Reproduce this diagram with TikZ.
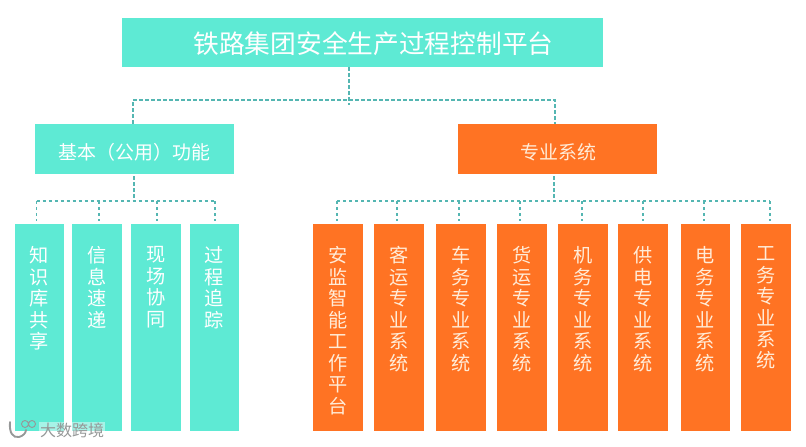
\documentclass[tikz,border=0pt]{standalone}
\usepackage{fontspec}
\setmainfont{Noto Sans CJK SC}
\usetikzlibrary{positioning}
\definecolor{tealbox}{RGB}{94,234,212}
\definecolor{orangebox}{RGB}{255,115,35}
\definecolor{linkteal}{RGB}{84,182,178}
\definecolor{orangetext}{RGB}{255,236,216}
\definecolor{markgray}{RGB}{150,152,152}
\tikzset{
	px/.style={x=0.75pt,y=-0.75pt},
	box/.style={draw=none,inner sep=0pt,text=white,font=\fontsize{14.2pt}{14.2pt}\selectfont},
	tealbox/.style={box,fill=tealbox},
	orangebox/.style={box,fill=orangebox,text=orangetext},
	lowered/.style={text height=17pt,text depth=2pt},
	coltext/.style={inner sep=0pt,align=center,text width=16pt,
		font=\fontsize{14.4pt}{16.1pt}\selectfont},
	link/.style={draw=linkteal,line width=1.1pt,dash pattern=on 2.6pt off 1.9pt}
}
\begin{document}
\begin{tikzpicture}[px]
	\useasboundingbox (0,0) rectangle (806,446);
	% upper boxes
	\node[tealbox,text height=19pt,text depth=2.2pt,minimum width=361pt,minimum height=37pt,font=\fontsize{19.3pt}{19.3pt}\selectfont] (top) at (362.5,42.5) {\hspace*{16.5pt}铁路集团安全生产过程控制平台};
	\node[tealbox,lowered,minimum width=149pt,minimum height=37.5pt] (base) at (134.5,149) {基本（公用）功能};
	\node[orangebox,lowered,minimum width=149pt,minimum height=37.5pt] (spec) at (557.5,149) {\hspace*{1pt}专业系统};
	% bus lines
	\coordinate (trunk) at (349,105);
	\coordinate (busa) at (133,100);
	\coordinate (busb) at (555,100);
	\coordinate (busc) at (134,201);
	\coordinate (busd) at (554,201);
	\draw[link] (trunk |- top.south) -- (trunk);
	\draw[link] (busa |- base.north) -- (busa) -- (busb) -- (busb |- spec.north);
	\draw[link,shorten <=1.5pt] (busc |- base.south) -- (busc);
	\draw[link,shorten <=1.5pt] (busd |- spec.south) -- (busd);
	% basic functions
	\foreach \n/\xa/\xb/\tap/\txt in {a/15/64/36.5/知\\识\\库\\共\\享,b/72/122/99/信\\息\\速\\递,c/131/181/157/现\\场\\协\\同,d/190/239/215/过\\程\\追\\踪}{
		\pgfmathsetmacro\colx{(\xa+\xb)/2}
		\pgfmathsetmacro\colw{(\xb-\xa)*0.75}
		\node[tealbox,minimum width=\colw pt,minimum height=155.25pt] (col\n) at (\colx,327.5) {};
		\node[coltext,text=white,below=17pt of col\n.north] (txt\n) {\txt};
		\coordinate (tap\n) at (\tap,201);
		\draw[link,shorten >=2pt] (tap\n) -- (tap\n |- col\n.north);
	}
	\draw[link] (tapa) -- (tapd);
	% special systems
	\foreach \n/\xa/\xb/\tap/\txt in {e/313/363/337/安\\监\\智\\能\\工\\作\\平\\台,f/374/424/397/客\\运\\专\\业\\系\\统,g/436/486/459/车\\务\\专\\业\\系\\统,h/497/547/520/货\\运\\专\\业\\系\\统,i/558/608/582/机\\务\\专\\业\\系\\统,j/618/668/643/供\\电\\专\\业\\系\\统,k/681/730/704/电\\务\\专\\业\\系\\统,l/741/791/770/工\\务\\专\\业\\系\\统}{
		\pgfmathsetmacro\colx{(\xa+\xb)/2}
		\pgfmathsetmacro\colw{(\xb-\xa)*0.75}
		\node[orangebox,minimum width=\colw pt,minimum height=155.25pt] (col\n) at (\colx,327.5) {};
		\node[coltext,text=orangetext,below=17pt of col\n.north] (txt\n) {\txt};
		\coordinate (tap\n) at (\tap,201);
		\draw[link,shorten >=2pt] (tap\n) -- (tap\n |- col\n.north);
	}
	\draw[link] (tape) -- (tapl);
	% watermark
	\node[fill=white,fill opacity=.45,text opacity=1,text=markgray,inner sep=1pt,font=\fontsize{12pt}{12pt}\selectfont] (mark) at (72,430.5) {大数跨境};
	\draw[markgray,line width=1.4pt,line cap=round] (10,422) .. controls (9,433) and (13,438) .. (19,437) .. controls (23,436) and (26,433) .. (26,430);
	\draw[markgray,line width=.7pt] (25,424) circle (3.5) (32,424) circle (3.5);
\end{tikzpicture}
\end{document}
